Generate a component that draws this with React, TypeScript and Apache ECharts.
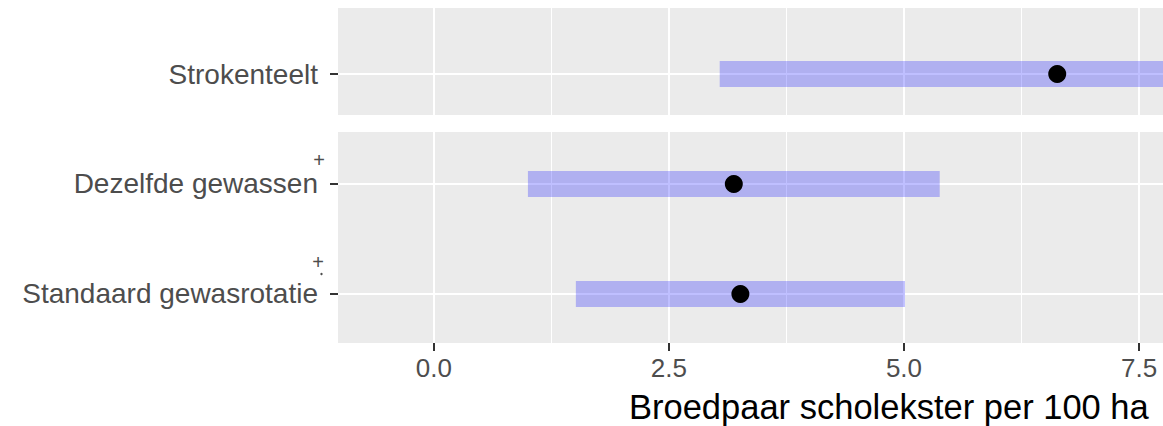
import React, { useEffect, useRef } from "react";
import * as echarts from "echarts";

const topCategories = ["Strokenteelt"];
const topEstimate = [6.63];
const topLower = [3.04];
const topUpper = [10.22];

const bottomCategories = ["Standaard gewasrotatie", "Dezelfde gewassen"];
const bottomEstimate = [3.26, 3.19];
const bottomLower = [1.51, 1.0];
const bottomUpper = [5.01, 5.38];

const xTicks = [0, 2.5, 5, 7.5];
const xMinor = [1.25, 3.75, 6.25];
const axisTitle = "Broedpaar scholekster per 100 ha";

const FONT = "'Liberation Sans', Arial, sans-serif";
const X_MIN = -1.02;
const X_MAX = 7.755;

export default function App() {
  const ref = useRef<HTMLDivElement>(null);
  useEffect(() => {
    if (!ref.current) return;
    const chart = echarts.init(ref.current, null, { renderer: "svg" });

    const majorX = (gridIndex: number, showLabels: boolean) => ({
      type: "value",
      gridIndex,
      min: X_MIN,
      max: X_MAX,
      position: "bottom",
      axisLine: { show: false, onZero: false },
      axisTick: {
        show: showLabels,
        customValues: xTicks,
        length: 8,
        lineStyle: { color: "#333333", width: 2 },
      },
      axisLabel: {
        show: showLabels,
        customValues: xTicks,
        margin: 12,
        color: "#4D4D4D",
        fontSize: 26,
        fontFamily: FONT,
        formatter: (v: number) => v.toFixed(1),
      },
      splitLine: { show: true, lineStyle: { color: "#FFFFFF", width: 2 } },
    });
    const minorX = (gridIndex: number) => ({
      type: "value",
      gridIndex,
      min: X_MIN,
      max: X_MAX,
      position: "bottom",
      axisLine: { show: false, onZero: false },
      axisTick: { show: false, customValues: xMinor },
      axisLabel: { show: false, customValues: xMinor },
      splitLine: { show: true, lineStyle: { color: "#FFFFFF", width: 1 } },
    });
    const yAxis = (gridIndex: number, cats: string[], min: number, max: number) => {
      const idx = cats.map((_, i) => i);
      return {
        type: "value",
        gridIndex,
        min,
        max,
        position: "left",
        axisLine: { show: false, onZero: false },
        axisTick: {
          show: true,
          customValues: idx,
          length: 8,
          lineStyle: { color: "#333333", width: 2 },
        },
        axisLabel: {
          show: true,
          customValues: idx,
          margin: 20,
          color: "#4D4D4D",
          fontSize: 28,
          fontFamily: FONT,
          formatter: (v: number) => cats[Math.round(v)] ?? "",
        },
        splitLine: { show: true, lineStyle: { color: "#FFFFFF", width: 2 } },
      };
    };

    const renderInterval = (params: any, api: any) => {
      const lo = api.value(0);
      const hi = api.value(1);
      const y = api.value(2);
      const p0 = api.coord([lo, y]);
      const p1 = api.coord([hi, y]);
      const h = 26;
      const cs = params.coordSys;
      const rect = echarts.graphic.clipRectByRect(
        { x: p0[0], y: p0[1] - h / 2, width: p1[0] - p0[0], height: h },
        { x: cs.x, y: cs.y, width: cs.width, height: cs.height }
      );
      if (!rect) return null;
      return { type: "rect", shape: rect, style: { fill: "rgba(0,0,255,0.25)" } };
    };

    const topIntervals = topCategories.map((_, i) => [topLower[i], topUpper[i], i]);
    const bottomIntervals = bottomCategories.map((_, i) => [bottomLower[i], bottomUpper[i], i]);

    chart.setOption({
      animation: false,
      backgroundColor: "#FFFFFF",
      grid: [
        { left: 338, top: 8, width: 825, height: 107, show: true, backgroundColor: "#EBEBEB", borderWidth: 0 },
        { left: 338, top: 132, width: 825, height: 211, show: true, backgroundColor: "#EBEBEB", borderWidth: 0 },
      ],
      xAxis: [majorX(0, false), minorX(0), majorX(1, true), minorX(1)],
      yAxis: [
        yAxis(0, topCategories, -0.3727, 0.6),
        yAxis(1, bottomCategories, -0.4455, 1.4727),
      ],
      series: [
        {
          type: "custom",
          xAxisIndex: 0,
          yAxisIndex: 0,
          renderItem: renderInterval,
          encode: { x: [0, 1], y: 2 },
          data: topIntervals,
        },
        {
          type: "custom",
          xAxisIndex: 2,
          yAxisIndex: 1,
          renderItem: renderInterval,
          encode: { x: [0, 1], y: 2 },
          data: bottomIntervals,
        },
        {
          type: "scatter",
          xAxisIndex: 0,
          yAxisIndex: 0,
          symbolSize: 18,
          itemStyle: { color: "#000000", opacity: 1 },
          data: topEstimate.map((v, i) => [v, i]),
        },
        {
          type: "scatter",
          xAxisIndex: 2,
          yAxisIndex: 1,
          symbolSize: 18,
          itemStyle: { color: "#000000", opacity: 1 },
          data: bottomEstimate.map((v, i) => [v, i]),
        },
      ],
      graphic: [
        {
          type: "text",
          left: 629,
          top: 389,
          style: { text: axisTitle, fill: "#000000", fontSize: 34.5, fontFamily: FONT },
        },
        {
          type: "text",
          x: 319,
          y: 160,
          style: { text: "+", fill: "#4D4D4D", fontSize: 20, fontFamily: FONT, align: "center", verticalAlign: "middle" },
        },
        {
          type: "text",
          x: 318,
          y: 262,
          style: { text: "+", fill: "#4D4D4D", fontSize: 20, fontFamily: FONT, align: "center", verticalAlign: "middle" },
        },
        {
          type: "circle",
          shape: { cx: 321.5, cy: 274, r: 1.2 },
          style: { fill: "#4D4D4D" },
        },
      ],
    });
    return () => chart.dispose();
  }, []);
  return (
    <div
      ref={ref}
      style={{ position: "absolute", left: 0, top: 0, width: 1163, height: 426 }}
    />
  );
}
